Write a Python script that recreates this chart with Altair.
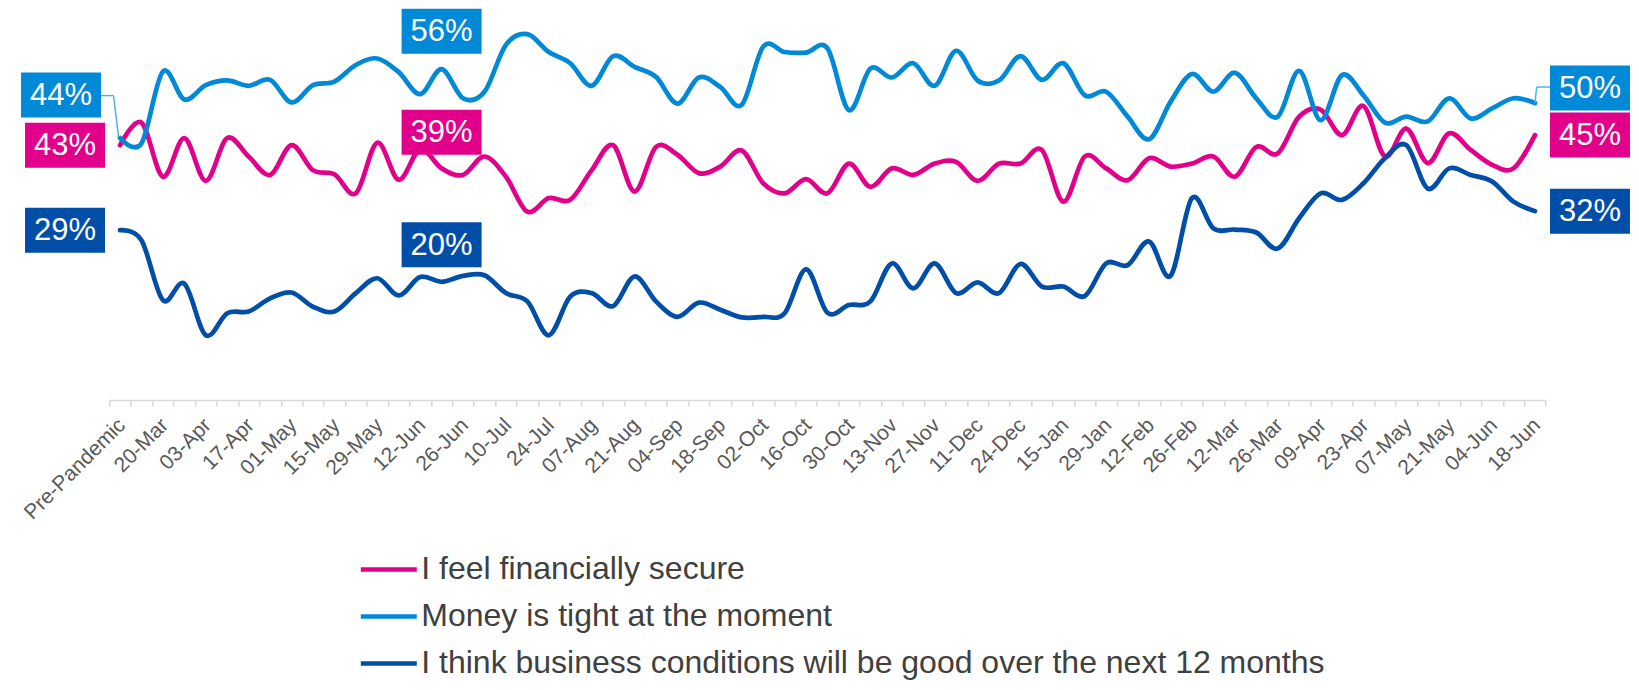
import json
import altair as alt
import pandas as pd

# ---------------- data ----------------
categories = ["Pre-Pandemic", "13-Mar", "20-Mar", "27-Mar", "03-Apr", "10-Apr", "17-Apr", "24-Apr",
              "01-May", "08-May", "15-May", "22-May", "29-May", "05-Jun", "12-Jun", "19-Jun", "26-Jun",
              "03-Jul", "10-Jul", "17-Jul", "24-Jul", "31-Jul", "07-Aug", "14-Aug", "21-Aug", "28-Aug",
              "04-Sep", "11-Sep", "18-Sep", "25-Sep", "02-Oct", "09-Oct", "16-Oct", "23-Oct", "30-Oct",
              "06-Nov", "13-Nov", "20-Nov", "27-Nov", "04-Dec", "11-Dec", "18-Dec", "24-Dec", "08-Jan",
              "15-Jan", "22-Jan", "29-Jan", "05-Feb", "12-Feb", "19-Feb", "26-Feb", "05-Mar", "12-Mar",
              "19-Mar", "26-Mar", "02-Apr", "09-Apr", "16-Apr", "23-Apr", "30-Apr", "07-May", "14-May",
              "21-May", "28-May", "04-Jun", "11-Jun", "18-Jun"]

secure = [42.9, 46.7, 37.6, 44.1, 36.9, 44.1, 41.0, 37.9, 42.9, 38.7, 38.0, 34.8, 43.3, 37.1, 42.2,
          39.0, 37.9, 41.0, 37.6, 31.7, 34.0, 33.7, 38.7, 42.9, 35.1, 42.6, 41.3, 38.2, 39.3, 42.0,
          36.5, 34.8, 37.2, 34.8, 39.8, 35.9, 39.0, 37.9, 39.8, 40.1, 36.9, 39.8, 39.8, 42.1, 33.4,
          41.0, 39.0, 37.0, 40.7, 39.3, 39.8, 41.0, 37.6, 42.6, 41.5, 47.7, 48.9, 44.6, 49.5, 41.0,
          45.7, 39.9, 44.9, 42.1, 39.6, 39.0, 44.6]

tight = [44.1, 43.2, 55.3, 50.6, 53.0, 53.8, 52.9, 53.9, 50.1, 53.0, 53.6, 56.4, 57.5, 55.2, 51.5,
         55.7, 50.8, 51.9, 59.8, 61.6, 58.6, 56.7, 52.9, 57.9, 56.1, 54.4, 49.9, 54.3, 52.7, 49.7,
         59.5, 58.6, 58.5, 59.2, 48.8, 55.8, 54.3, 56.7, 52.9, 58.8, 53.8, 53.8, 57.9, 53.9, 56.7,
         51.3, 51.9, 47.7, 43.9, 50.2, 54.9, 51.9, 55.1, 50.8, 47.7, 55.4, 47.1, 54.7, 51.3, 46.7,
         47.7, 46.9, 50.8, 47.4, 49.1, 50.8, 50.0]

business = [28.6, 26.9, 16.8, 19.6, 10.9, 14.6, 14.9, 17.1, 18.1, 15.7, 14.9, 18.0, 20.5, 17.6, 20.7,
            19.9, 20.9, 21.0, 18.0, 16.6, 10.9, 17.4, 18.0, 15.8, 20.8, 16.6, 14.0, 16.4, 15.2, 13.9,
            14.0, 14.6, 22.0, 14.7, 16.0, 16.6, 23.0, 18.8, 23.0, 18.0, 19.8, 18.0, 22.9, 19.1, 19.1,
            17.5, 23.0, 22.7, 26.7, 20.9, 34.0, 28.9, 28.7, 28.2, 25.5, 30.6, 34.8, 33.7, 36.5, 40.7,
            42.9, 35.6, 39.0, 37.9, 36.8, 33.4, 31.8]

series_names = ["I feel financially secure",
                "Money is tight at the moment",
                "I think business conditions will be good over the next 12 months"]
series_values = [secure, tight, business]
colors = ["#E2008A", "#0089D6", "#004EA8"]
leader_color = "#4DB3EE"

n = len(categories)
for s in series_values:
    assert len(s) == n

# ---------------- layout ----------------
PLOT_W = 1436.4
PLOT_H = 392
step = PLOT_W / n
FONT = "Liberation Sans"

rows = []
for name, vals in zip(series_names, series_values):
    for i, (c, v) in enumerate(zip(categories, vals)):
        rows.append({"idx": i, "cat": c, "value": v, "series": name})
df = pd.DataFrame(rows)

x_scale = alt.Scale(domain=[-0.5, n - 0.5], nice=False, zero=False)
y_scale = alt.Scale(domain=[0, 66], nice=False, zero=False)

label_expr = ("(datum.value + 0.5) % 2 == 0 ? " + json.dumps(categories) +
              "[datum.value + 0.5] : ''")

x_axis = alt.Axis(
    title=None,
    values=[i - 0.5 for i in range(n + 1)],
    labelExpr=label_expr,
    labelOffset=step / 2 - 6,
    labelAngle=315,
    labelAlign="right",
    labelBaseline="top",
    labelFont=FONT,
    labelFontSize=21,
    labelColor="#595959",
    labelPadding=8,
    labelOverlap=False,
    labelFlush=False,
    labelBound=False,
    domainColor="#D9D9D9",
    domainWidth=1.5,
    tickColor="#D9D9D9",
    tickWidth=1.5,
    tickSize=6,
    grid=False,
)

X = alt.X("idx:Q", scale=x_scale, axis=x_axis)
Y = alt.Y("value:Q", scale=y_scale, axis=None)

lines = alt.Chart(df).mark_line(
    interpolate="cardinal", strokeWidth=4.7, strokeCap="round", strokeJoin="round"
).encode(
    x=X,
    y=Y,
    order=alt.Order("idx:Q"),
    color=alt.Color(
        "series:N",
        scale=alt.Scale(domain=series_names, range=colors),
        legend=alt.Legend(
            title=None,
            orient="none",
            legendX=249,
            legendY=531,
            direction="vertical",
            symbolType="stroke",
            symbolSize=3136,
            symbolStrokeWidth=4.5,
            labelFont=FONT,
            labelFontSize=32,
            labelColor="#404040",
            labelOffset=2,
            labelLimit=0,
            rowPadding=-1,
            padding=0,
        ),
    ),
)

layers = [lines]

# leader lines (series index, point index, [(x1, y1, x2, y2) offsets])
leaders = [
    (1, 0, [(-19, -42.5, -6.5, -42.5), (-6.5, -42.5, -1.5, -1.5)]),
    (1, n - 1, [(0, 0, 1.7, -16), (1.7, -16, 15, -16)]),
]
for si, pi, segs in leaders:
    d = pd.DataFrame([{"idx": pi, "value": series_values[si][pi]}])
    for (ax, ay, bx, by) in segs:
        layers.append(
            alt.Chart(d).mark_rule(
                color=leader_color, strokeWidth=1.5,
                xOffset=ax, yOffset=ay, x2Offset=bx, y2Offset=by,
            ).encode(x=X, y=Y, x2=alt.X2("idx"), y2=alt.Y2("value"))
        )

# data labels: (series index, point index, dx, dy)
labels = [
    (1, 0, -59, -43), (0, 0, -55, 0), (2, 0, -55, 0),
    (1, 15, 0, -38), (0, 15, 0, -36), (2, 15, 0, -37),
    (1, n - 1, 55, -15), (0, n - 1, 55, 0), (2, n - 1, 55, 0),
]
box_path = "M-1,-0.5625L1,-0.5625L1,0.5625L-1,0.5625Z"
for si, pi, dx, dy in labels:
    v = series_values[si][pi]
    d = pd.DataFrame([{"idx": pi, "value": v, "text": f"{round(v)}%"}])
    layers.append(
        alt.Chart(d).mark_point(
            shape=box_path, size=6400, filled=True, opacity=1,
            color=colors[si], strokeWidth=0, xOffset=dx, yOffset=dy,
        ).encode(x=X, y=Y)
    )
    layers.append(
        alt.Chart(d).mark_text(
            font=FONT, fontSize=31, color="white", align="center", baseline="middle",
            xOffset=dx, yOffset=dy + 1,
        ).encode(x=X, y=Y, text="text:N")
    )

chart = alt.layer(*layers).properties(
    width=PLOT_W,
    height=PLOT_H,
    autosize=alt.AutoSizeParams(type="none"),
    padding={"left": 101.3, "top": 0, "right": 85, "bottom": 282},
    background="white",
).configure_view(stroke=None, strokeWidth=0)

chart.save("out.html", embed_options={"renderer": "svg", "actions": False})
